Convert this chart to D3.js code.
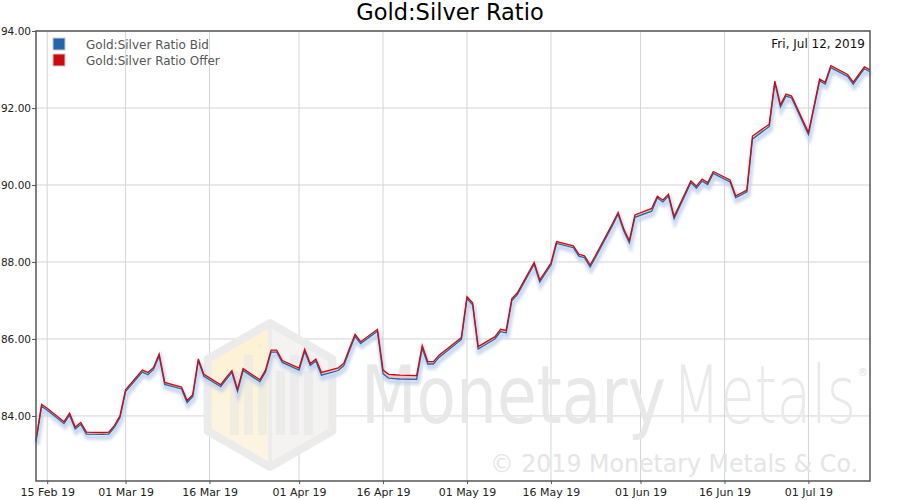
<!DOCTYPE html>
<html>
<head>
<meta charset="utf-8">
<script src="https://cdn.jsdelivr.net/npm/d3@7"></script>
<style>
  body { margin: 0; background: #fff; }
  text { font-family: "DejaVu Sans", sans-serif; }
</style>
</head>
<body>
<script>
var dates = [
  "2019-02-13", "2019-02-14", "2019-02-15", "2019-02-18", "2019-02-19", "2019-02-20", "2019-02-21", "2019-02-22",
  "2019-02-25", "2019-02-26", "2019-02-27", "2019-02-28", "2019-03-01",
  "2019-03-04", "2019-03-05", "2019-03-06", "2019-03-07", "2019-03-08",
  "2019-03-11", "2019-03-12", "2019-03-13", "2019-03-14", "2019-03-15",
  "2019-03-18", "2019-03-19", "2019-03-20", "2019-03-21", "2019-03-22",
  "2019-03-25", "2019-03-26", "2019-03-27", "2019-03-28", "2019-03-29",
  "2019-04-01", "2019-04-02", "2019-04-03", "2019-04-04", "2019-04-05",
  "2019-04-08", "2019-04-09", "2019-04-10", "2019-04-11", "2019-04-12",
  "2019-04-15", "2019-04-16", "2019-04-17", "2019-04-18", "2019-04-19",
  "2019-04-22", "2019-04-23", "2019-04-24", "2019-04-25", "2019-04-26",
  "2019-04-29", "2019-04-30", "2019-05-01", "2019-05-02", "2019-05-03",
  "2019-05-06", "2019-05-07", "2019-05-08", "2019-05-09", "2019-05-10",
  "2019-05-13", "2019-05-14", "2019-05-15", "2019-05-16", "2019-05-17",
  "2019-05-20", "2019-05-21", "2019-05-22", "2019-05-23", "2019-05-24",
  "2019-05-27", "2019-05-28", "2019-05-29", "2019-05-30", "2019-05-31",
  "2019-06-03", "2019-06-04", "2019-06-05", "2019-06-06", "2019-06-07",
  "2019-06-10", "2019-06-11", "2019-06-12", "2019-06-13", "2019-06-14",
  "2019-06-17", "2019-06-18", "2019-06-19", "2019-06-20", "2019-06-21",
  "2019-06-24", "2019-06-25", "2019-06-26", "2019-06-27", "2019-06-28",
  "2019-07-01", "2019-07-02", "2019-07-03", "2019-07-04", "2019-07-05",
  "2019-07-08", "2019-07-09", "2019-07-10", "2019-07-11", "2019-07-12"
];

var offer = [
  83.38, 84.30, 84.20, 83.85, 84.07, 83.71, 83.83, 83.58,
  83.57, 83.58, 83.75, 84.00, 84.68,
  85.19, 85.13, 85.26, 85.61, 84.87,
  84.75, 84.40, 84.55, 85.48, 85.08,
  84.81, 85.00, 85.18, 84.69, 85.23,
  84.94, 85.19, 85.71, 85.71, 85.44,
  85.24, 85.73, 85.36, 85.48, 85.13,
  85.25, 85.37, 85.75, 86.12, 85.93,
  86.25, 85.19, 85.08, 85.07, 85.06,
  85.05, 85.83, 85.41, 85.41, 85.58,
  85.92, 86.04, 87.10, 86.94, 85.80,
  86.06, 86.25, 86.22, 87.04, 87.20,
  87.99, 87.53, 87.75, 87.97, 88.53,
  88.42, 88.20, 88.16, 87.92, 88.18,
  89.00, 89.29, 88.86, 88.55, 89.22,
  89.39, 89.71, 89.61, 89.76, 89.18,
  90.11, 89.97, 90.15, 90.06, 90.35,
  90.13, 89.72, 89.79, 89.87, 91.27,
  91.58, 92.70, 92.08, 92.36, 92.31,
  91.36, 92.05, 92.75, 92.67, 93.10,
  92.87, 92.67, 92.87, 93.07, 92.99
];

var bid = [
  83.33, 84.25, 84.15, 83.80, 84.02, 83.66, 83.78, 83.53,
  83.52, 83.53, 83.70, 83.95, 84.63,
  85.14, 85.07, 85.21, 85.56, 84.82,
  84.70, 84.35, 84.50, 85.43, 85.03,
  84.76, 84.95, 85.13, 84.64, 85.18,
  84.89, 85.14, 85.66, 85.66, 85.39,
  85.19, 85.68, 85.31, 85.43, 85.06,
  85.18, 85.31, 85.70, 86.07, 85.88,
  86.20, 85.10, 84.98, 84.97, 84.96,
  84.95, 85.76, 85.35, 85.35, 85.52,
  85.87, 85.99, 87.05, 86.89, 85.74,
  86.00, 86.19, 86.16, 86.99, 87.15,
  87.94, 87.48, 87.70, 87.92, 88.48,
  88.37, 88.15, 88.11, 87.87, 88.13,
  88.95, 89.24, 88.81, 88.50, 89.16,
  89.32, 89.66, 89.56, 89.71, 89.13,
  90.06, 89.92, 90.10, 90.01, 90.30,
  90.08, 89.67, 89.74, 89.82, 91.19,
  91.52, 92.65, 92.03, 92.31, 92.26,
  91.31, 92.00, 92.70, 92.62, 93.05,
  92.82, 92.62, 92.82, 93.02, 92.94
];

var xTicks = ["2019-02-15", "2019-03-01", "2019-03-16", "2019-04-01", "2019-04-16",
              "2019-05-01", "2019-05-16", "2019-06-01", "2019-06-16", "2019-07-01"];
var yTicks = [84, 86, 88, 90, 92, 94];
var seriesNames = ["Gold:Silver Ratio Bid", "Gold:Silver Ratio Offer"];
var seriesColors = ["#2464ac", "#cc0c0c"];
var titleText = "Gold:Silver Ratio";
var dateLabel = "Fri, Jul 12, 2019";

var W = 900, H = 500;
var plotLeft = 36, plotRight = 870, plotTop = 31, plotBottom = 481;

var parse = d3.timeParse("%Y-%m-%d");
var points = dates.map(function (d, i) {
    return { date: parse(d), bid: bid[i], offer: offer[i] };
});

var x = d3.scaleTime()
    .domain([parse("2019-02-13"), parse("2019-07-12")])
    .range([plotLeft, plotRight]);

var y = d3.scaleLinear()
    .domain([82.31, 94])
    .range([plotBottom, plotTop]);

var svg = d3.select("body")
    .append("svg")
    .attr("width", W)
    .attr("height", H);

var defs = svg.append("defs");
defs.append("filter")
    .attr("id", "blur")
    .attr("x", "-5%").attr("y", "-20%")
    .attr("width", "110%").attr("height", "140%")
    .append("feGaussianBlur")
    .attr("stdDeviation", 1.8);

var leftFace = defs.append("linearGradient")
    .attr("id", "leftface")
    .attr("x1", 0).attr("y1", 0).attr("x2", 0).attr("y2", 1);
leftFace.append("stop").attr("offset", "0%").attr("stop-color", "#fdf1d2");
leftFace.append("stop").attr("offset", "100%").attr("stop-color", "#fcf5e4");

svg.append("text")
    .attr("x", W / 2)
    .attr("y", 20)
    .attr("text-anchor", "middle")
    .attr("font-size", 22.5)
    .attr("fill", "#000")
    .text(titleText);

// grid lines
svg.append("g")
    .selectAll("line")
    .data(xTicks)
    .enter()
    .append("line")
    .attr("x1", function (d) { return x(parse(d)); })
    .attr("x2", function (d) { return x(parse(d)); })
    .attr("y1", plotTop)
    .attr("y2", plotBottom)
    .attr("stroke", "#d4d4d4")
    .attr("stroke-width", 1);

svg.append("g")
    .selectAll("line")
    .data(yTicks)
    .enter()
    .append("line")
    .attr("x1", plotLeft)
    .attr("x2", plotRight)
    .attr("y1", function (d) { return y(d); })
    .attr("y2", function (d) { return y(d); })
    .attr("stroke", "#d4d4d4")
    .attr("stroke-width", 1);

// watermark: hexagon logo
var wm = svg.append("g");
var hcx = 270, hcy = 395, hr = 72;
var hex = d3.range(6).map(function (k) {
    var a = Math.PI / 3 * k - Math.PI / 2;
    return [hcx + hr * Math.cos(a), hcy + hr * Math.sin(a)];
});
// hex[0] top, [1] upper right, [2] lower right, [3] bottom, [4] lower left, [5] upper left
wm.append("polygon")
    .attr("points", [hex[0], [hcx, hcy + 60], hex[3], hex[4], hex[5]].map(function (p) { return p.join(","); }).join(" "))
    .attr("fill", "url(#leftface)");
wm.append("polygon")
    .attr("points", [hex[0], hex[1], hex[2], hex[3], [hcx, hcy + 60]].map(function (p) { return p.join(","); }).join(" "))
    .attr("fill", "#f4f3f1");
wm.append("polygon")
    .attr("points", hex.map(function (p) { return p.join(","); }).join(" "))
    .attr("fill", "none")
    .attr("stroke", "#ebebeb")
    .attr("stroke-width", 8)
    .attr("stroke-linejoin", "round");
wm.append("line")
    .attr("x1", hcx).attr("x2", hcx)
    .attr("y1", hcy - hr + 4).attr("y2", hcy + hr - 4)
    .attr("stroke", "#ececec")
    .attr("stroke-width", 4);
[[-36, 28], [-22, 12], [-8, 28], [10, 28], [24, 12], [38, 28]].forEach(function (b) {
    wm.append("rect")
        .attr("x", hcx + b[0] - 4)
        .attr("y", hcy - 40 + b[1] - 12)
        .attr("width", 9)
        .attr("height", 80 - b[1] + 12)
        .attr("fill", b[0] < 0 ? "#f1ece0" : "#ebebeb");
});

// watermark: word mark
wm.append("text")
    .attr("x", 361)
    .attr("y", 423)
    .attr("font-family", "'Open Sans', 'DejaVu Sans', sans-serif")
    .attr("font-size", 80)
    .attr("font-weight", 400)
    .attr("fill", "#e8e8e8")
    .attr("textLength", 305)
    .attr("lengthAdjust", "spacingAndGlyphs")
    .text("Monetary");

wm.append("text")
    .attr("x", 672)
    .attr("y", 423)
    .attr("font-family", "'Open Sans', 'DejaVu Sans', sans-serif")
    .attr("font-size", 80)
    .attr("font-weight", 300)
    .attr("fill", "#eaeaea")
    .attr("textLength", 184)
    .attr("lengthAdjust", "spacingAndGlyphs")
    .text("Metals");

wm.append("text")
    .attr("x", 858)
    .attr("y", 376)
    .attr("font-size", 10)
    .attr("fill", "#e0e0e0")
    .text("\u00ae");

wm.append("text")
    .attr("x", 490)
    .attr("y", 472)
    .attr("font-size", 25)
    .attr("fill", "#e5e5e5")
    .attr("textLength", 368)
    .attr("lengthAdjust", "spacingAndGlyphs")
    .text("\u00a9 2019 Monetary Metals & Co.");

// series
var plot = svg.append("g");

var lineBid = d3.line()
    .x(function (d) { return x(d.date); })
    .y(function (d) { return y(d.bid); });
var lineOffer = d3.line()
    .x(function (d) { return x(d.date); })
    .y(function (d) { return y(d.offer); });
var band = d3.area()
    .x(function (d) { return x(d.date); })
    .y0(function (d) { return y(d.bid); })
    .y1(function (d) { return y(d.offer); });

plot.append("path")
    .datum(points)
    .attr("d", lineBid)
    .attr("transform", "translate(1,3)")
    .attr("fill", "none")
    .attr("stroke", "#bfd0ec")
    .attr("stroke-width", 5)
    .attr("opacity", 0.85)
    .attr("filter", "url(#blur)");

plot.append("path")
    .datum(points)
    .attr("d", band)
    .attr("fill", "#f4c4c4");

plot.append("path")
    .datum(points)
    .attr("d", lineBid)
    .attr("fill", "none")
    .attr("stroke", seriesColors[0])
    .attr("stroke-width", 1.3);

plot.append("path")
    .datum(points)
    .attr("d", lineOffer)
    .attr("fill", "none")
    .attr("stroke", seriesColors[1])
    .attr("stroke-width", 1.3);

// frame
svg.append("rect")
    .attr("x", plotLeft)
    .attr("y", plotTop)
    .attr("width", plotRight - plotLeft)
    .attr("height", plotBottom - plotTop)
    .attr("fill", "none")
    .attr("stroke", "#555")
    .attr("stroke-width", 1.5);

// axes
var yAxis = d3.axisLeft(y)
    .tickValues(yTicks)
    .tickFormat(d3.format(".2f"))
    .tickSize(4)
    .tickPadding(1);
var gy = svg.append("g")
    .attr("transform", "translate(" + plotLeft + ",0)")
    .call(yAxis);
gy.select(".domain").remove();
gy.selectAll("line").attr("stroke", "#555");
gy.selectAll("text")
    .attr("font-size", 10.5)
    .attr("font-family", "'DejaVu Sans', sans-serif")
    .attr("fill", "#222");

var xAxis = d3.axisBottom(x)
    .tickValues(xTicks.map(parse))
    .tickFormat(d3.timeFormat("%d %b %y"))
    .tickSize(3)
    .tickPadding(4);
var gx = svg.append("g")
    .attr("transform", "translate(0," + plotBottom + ")")
    .call(xAxis);
gx.select(".domain").remove();
gx.selectAll("line").attr("stroke", "#555");
gx.selectAll("text")
    .attr("font-size", 11)
    .attr("font-family", "'DejaVu Sans', sans-serif")
    .attr("fill", "#222");

// legend
var legend = svg.append("g")
    .selectAll("g")
    .data(seriesNames)
    .enter()
    .append("g")
    .attr("transform", function (d, i) { return "translate(53," + (38 + i * 16) + ")"; });
legend.append("rect")
    .attr("width", 12)
    .attr("height", 12)
    .attr("fill", function (d, i) { return seriesColors[i]; })
    .attr("stroke", "#c8c8c8")
    .attr("stroke-width", 1);
legend.append("text")
    .attr("x", 33)
    .attr("y", 10.5)
    .attr("font-size", 12)
    .attr("fill", "#555")
    .text(function (d) { return d; });

svg.append("text")
    .attr("x", 865)
    .attr("y", 48)
    .attr("text-anchor", "end")
    .attr("font-size", 12)
    .attr("fill", "#111")
    .text(dateLabel);
</script>
</body>
</html>
